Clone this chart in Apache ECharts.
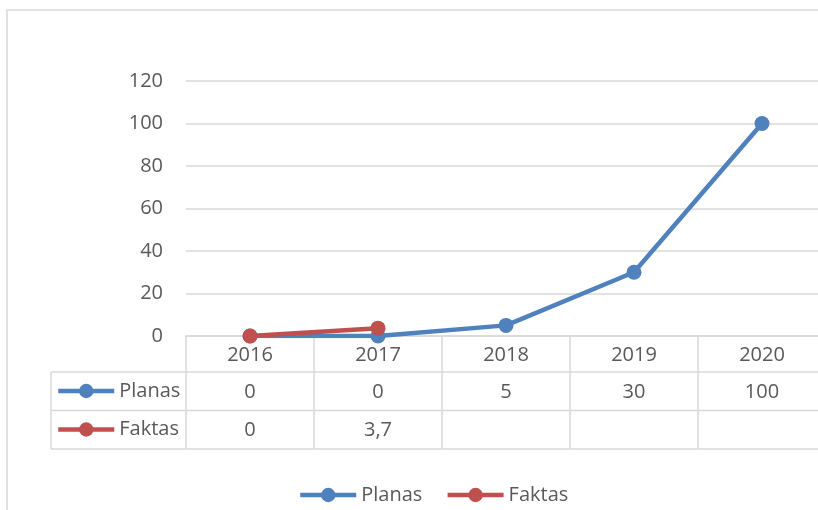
<!DOCTYPE html>
<html>
<head>
<meta charset="utf-8">
<script src="https://cdn.jsdelivr.net/npm/echarts@6/dist/echarts.min.js"></script>
<style>
html,body{margin:0;padding:0;background:#fff;overflow:hidden;}
#chart{width:840px;height:510px;}
</style>
</head>
<body>
<div id="chart"></div>
<script>
var categories = ['2016', '2017', '2018', '2019', '2020'];
var planas = [0, 0, 5, 30, 100];
var faktas = [0, 3.7, null, null, null];
var seriesNames = ['Planas', 'Faktas'];
var yTicks = { min: 0, max: 120, interval: 20 };

var BLUE = '#4F81BD', RED = '#C0504D', GRID = '#D9D9D9', TEXT = '#595959';
var FONT = '"Open Sans", sans-serif';

function fmt(v) {
  if (v === null || v === undefined) return ' ';
  return String(v).replace('.', ',');
}

var chart = echarts.init(document.getElementById('chart'), null, { renderer: 'canvas' });

var GL = 186, GT = 81, GW = 640, GH = 255;
var ROW0 = 36, ROW = 38.5;
var tableLeft = 51;

var legendCommon = {
  itemWidth: 56, itemHeight: 18,
  data: seriesNames,
  textStyle: { fontSize: 20, color: TEXT, fontFamily: FONT },
  lineStyle: { width: 4.5 },
  selectedMode: false
};

var option = {
  backgroundColor: '#fff',
  animation: false,
  textStyle: { fontFamily: FONT },
  grid: { left: GL, top: GT, width: GW, height: GH, containLabel: false },
  legend: [
    Object.assign({ orient: 'vertical', left: 51, top: 376, itemGap: 18.5 }, legendCommon),
    Object.assign({ orient: 'horizontal', left: 293, top: 480, itemGap: 23 }, legendCommon)
  ],
  xAxis: {
    type: 'category',
    data: categories,
    boundaryGap: true,
    axisLine: { show: true, lineStyle: { color: GRID, width: 1.5 } },
    axisTick: { show: true, alignWithLabel: false, interval: 0, length: ROW0 + 2 * ROW, lineStyle: { color: GRID, width: 1.5 } },
    splitLine: { show: false },
    axisLabel: {
      interval: 0,
      margin: 1,
      formatter: function (val, idx) {
        return '{h|' + val + '}\n{v|' + fmt(planas[idx]) + '}\n{v|' + fmt(faktas[idx]) + '}';
      },
      rich: {
        h: { fontSize: 20, color: TEXT, lineHeight: ROW0, fontFamily: FONT, align: 'center' },
        v: { fontSize: 20, color: TEXT, lineHeight: ROW, fontFamily: FONT, align: 'center' }
      }
    }
  },
  yAxis: {
    type: 'value',
    min: yTicks.min, max: yTicks.max, interval: yTicks.interval,
    axisLine: { show: false },
    axisTick: { show: false },
    axisLabel: { fontSize: 20, color: TEXT, margin: 23, fontFamily: FONT },
    splitLine: { show: true, lineStyle: { color: GRID, width: 1.5 } }
  },
  series: [
    {
      name: seriesNames[0], type: 'line', data: planas,
      symbol: 'circle', symbolSize: 15,
      lineStyle: { color: BLUE, width: 4.5 },
      itemStyle: { color: BLUE },
      z: 3
    },
    {
      name: seriesNames[1], type: 'line', data: faktas,
      symbol: 'circle', symbolSize: 15,
      lineStyle: { color: RED, width: 4.5 },
      itemStyle: { color: RED },
      z: 4
    }
  ]
};
chart.setOption(option);

// table structure lines, positioned from the axis scale
var y0 = chart.convertToPixel({ yAxisIndex: 0 }, 0);
var xRight = GL + GW;
var rows = [y0 + ROW0, y0 + ROW0 + ROW, y0 + ROW0 + 2 * ROW];
var gfx = [];
rows.forEach(function (y) {
  gfx.push({ type: 'line', shape: { x1: tableLeft, y1: y, x2: xRight, y2: y }, style: { stroke: GRID, lineWidth: 1.5 }, silent: true });
});
gfx.push({ type: 'line', shape: { x1: tableLeft, y1: rows[0], x2: tableLeft, y2: rows[2] }, style: { stroke: GRID, lineWidth: 1.5 }, silent: true });
gfx.push({ type: 'rect', shape: { x: 7, y: 10, width: 900, height: 600 }, style: { fill: 'none', stroke: GRID, lineWidth: 1.5 }, silent: true, z: -1 });
chart.setOption({ graphic: gfx });
</script>
</body>
</html>
